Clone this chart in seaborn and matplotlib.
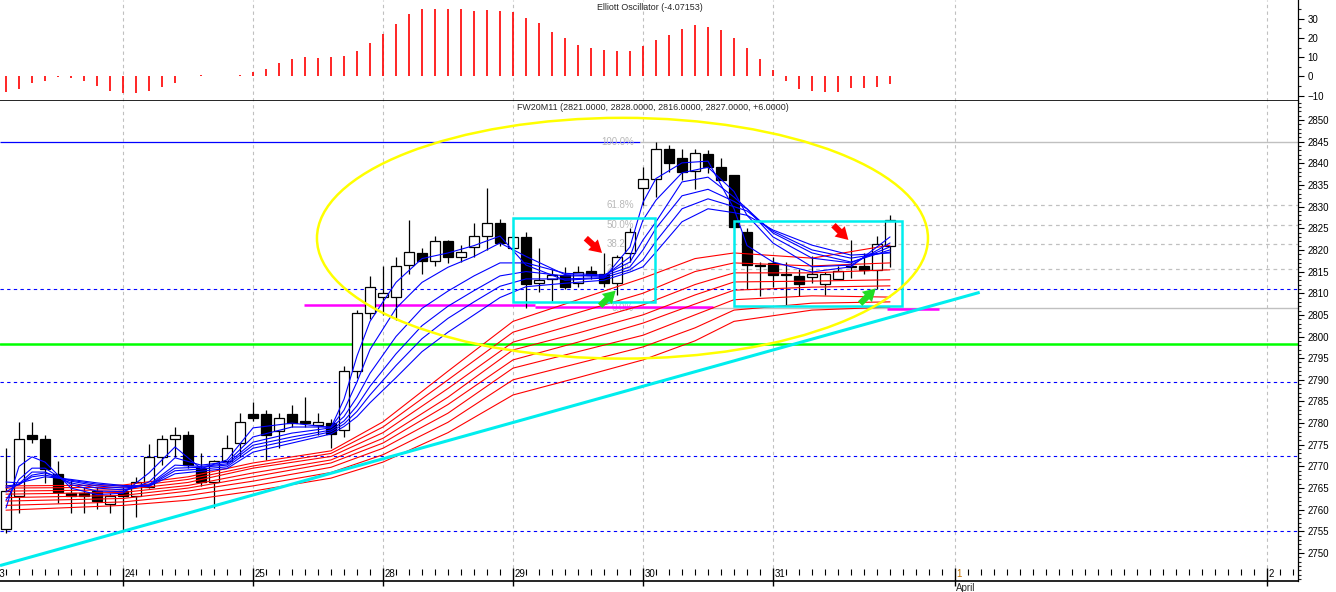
import matplotlib
matplotlib.use('Agg')
import matplotlib.pyplot as plt
from matplotlib.patches import Ellipse, Rectangle
from matplotlib.ticker import MultipleLocator, FixedLocator
import numpy as np
import pandas as pd
import seaborn as sns

sns.set_style('white')
plt.rcParams['font.family'] = ['Liberation Sans', 'DejaVu Sans']

# Candles (one bar per slot, 10 slots per trading day)
bar_idx = list(range(69))
opens = [2755.5, 2763.2, 2777.3, 2776.3, 2768.2, 2763.9, 2763.9, 2764.3, 2761.3, 2764.3,
         2763.2, 2765.2, 2772.2, 2776.3, 2777.3, 2769.6, 2766.4, 2771.2, 2775.4, 2782.1,
         2782.1, 2778.2, 2782.1, 2780.4, 2779.6, 2780.0, 2778.4, 2792.0, 2805.4, 2809.1,
         2809.1, 2816.5, 2819.3, 2817.4, 2822.1, 2818.4, 2820.7, 2823.2, 2826.2, 2820.4,
         2823.0, 2812.4, 2813.3, 2814.2, 2812.4, 2815.1, 2814.4, 2812.4, 2819.3, 2834.3,
         2836.4, 2843.3, 2841.2, 2838.2, 2842.1, 2839.1, 2837.3, 2824.1, 2816.5, 2817.0,
         2814.3, 2814.0, 2813.8, 2812.1, 2813.3, 2816.0, 2816.3, 2815.4, 2821.0]
highs = [2774.2, 2780.3, 2780.3, 2777.3, 2771.2, 2766.9, 2765.2, 2765.2, 2763.9, 2765.2,
         2767.6, 2775.2, 2777.3, 2779.1, 2778.2, 2773.1, 2771.5, 2777.3, 2782.3, 2784.9,
         2783.0, 2782.3, 2784.2, 2786.0, 2782.3, 2781.0, 2793.2, 2806.1, 2814.0, 2816.3,
         2818.4, 2826.9, 2820.4, 2823.2, 2822.4, 2821.1, 2826.2, 2834.3, 2827.1, 2824.1,
         2824.1, 2820.4, 2815.5, 2816.0, 2816.3, 2816.3, 2819.3, 2818.8, 2825.0, 2839.1,
         2844.9, 2844.2, 2843.3, 2843.3, 2843.0, 2841.2, 2837.3, 2825.0, 2817.2, 2818.4,
         2817.2, 2815.5, 2818.6, 2815.0, 2816.3, 2822.3, 2819.3, 2823.2, 2828.0]
lows = [2754.6, 2759.2, 2775.4, 2766.2, 2761.5, 2759.2, 2759.2, 2760.2, 2759.2, 2755.3,
        2758.3, 2765.0, 2770.3, 2772.2, 2769.6, 2765.5, 2760.4, 2770.5, 2772.2, 2780.5,
        2771.5, 2774.2, 2779.1, 2779.0, 2777.3, 2774.2, 2776.8, 2790.5, 2804.0, 2805.0,
        2803.8, 2814.4, 2814.4, 2816.3, 2817.0, 2817.2, 2818.4, 2820.0, 2821.0, 2819.0,
        2806.6, 2810.3, 2808.2, 2811.0, 2811.4, 2813.3, 2811.4, 2809.6, 2817.2, 2830.4,
        2832.2, 2838.0, 2836.2, 2834.0, 2837.8, 2836.1, 2825.3, 2811.0, 2809.4, 2811.4,
        2807.3, 2809.4, 2812.4, 2809.6, 2813.3, 2813.5, 2814.4, 2811.0, 2816.0]
closes = [2764.3, 2776.3, 2776.3, 2769.4, 2764.1, 2763.2, 2763.2, 2762.0, 2763.2, 2763.2,
          2766.4, 2772.2, 2776.3, 2777.3, 2770.3, 2766.4, 2771.2, 2774.2, 2780.3, 2781.2,
          2777.3, 2781.2, 2780.0, 2780.0, 2780.2, 2777.5, 2792.0, 2805.4, 2811.4, 2810.0,
          2816.3, 2819.5, 2817.4, 2822.1, 2818.4, 2819.5, 2823.2, 2826.2, 2821.6, 2823.0,
          2812.1, 2813.0, 2814.2, 2811.4, 2814.9, 2814.2, 2812.4, 2818.4, 2824.1, 2836.4,
          2843.3, 2840.1, 2838.0, 2842.4, 2839.1, 2836.1, 2825.3, 2816.5, 2816.3, 2814.2,
          2814.2, 2812.1, 2814.4, 2814.4, 2815.1, 2816.2, 2815.4, 2821.4, 2827.0]

# Elliott oscillator
osc_values = [-7.8, -6.4, -3.3, -2.1, -0.3, -0.7, -2.1, -4.7, -7.3, -8.3,
              -8.3, -7.3, -5.4, -3.3, 0.0, 0.9, 0.3, 0.3, 0.9, 2.4,
              4.0, 7.1, 9.2, 10.2, 9.7, 10.2, 10.7, 13.3, 17.4, 22.1,
              27.3, 32.5, 35.1, 35.1, 35.1, 35.1, 34.0, 34.5, 34.0, 33.2,
              30.4, 27.8, 23.1, 20.0, 16.4, 14.9, 13.8, 13.3, 13.3, 15.9,
              19.0, 21.6, 24.7, 26.8, 25.7, 24.2, 20.0, 14.9, 9.2, 3.5,
              -2.1, -6.4, -7.4, -7.8, -7.9, -6.0, -5.9, -5.2, -4.07]

# Short-term averages (blue), read at these bar positions
blue_k = [0, 1, 2, 3, 5, 7, 9, 11, 13, 15, 17, 19, 22, 25, 26, 27, 28, 30, 32, 34,
          36, 38, 40, 43, 46, 48, 49, 50, 52, 54, 56, 57, 59, 62, 65, 68]
blue_1 = [2760.4, 2770.0, 2772.2, 2771.0, 2765.0, 2763.5, 2763.8, 2768.5, 2774.5, 2769.5,
          2771.5, 2778.9, 2780.0, 2779.0, 2785.5, 2795.5, 2803.5, 2812.5, 2818.0, 2819.3,
          2821.0, 2823.2, 2816.5, 2813.0, 2813.5, 2820.7, 2831.0, 2836.5, 2840.1, 2840.5,
          2829.5, 2821.0, 2817.2, 2814.9, 2816.1, 2823.0]
blue_2 = [2762.2, 2767.0, 2769.6, 2769.6, 2765.8, 2764.3, 2764.2, 2766.4, 2772.0, 2770.3,
          2771.0, 2776.8, 2779.1, 2779.1, 2783.0, 2789.5, 2797.0, 2806.5, 2812.5, 2816.0,
          2818.5, 2821.6, 2818.5, 2814.3, 2813.9, 2818.4, 2826.9, 2831.5, 2837.8, 2839.1,
          2833.5, 2828.0, 2821.6, 2816.1, 2816.5, 2821.6]
blue_3 = [2764.1, 2766.0, 2768.7, 2768.7, 2766.2, 2765.0, 2764.6, 2765.8, 2770.3, 2770.0,
          2770.6, 2775.6, 2777.7, 2778.9, 2781.5, 2786.0, 2791.5, 2800.0, 2806.5, 2810.5,
          2814.0, 2817.0, 2817.0, 2814.6, 2814.2, 2817.2, 2822.3, 2826.5, 2835.7, 2836.8,
          2832.2, 2829.5, 2823.0, 2818.1, 2817.0, 2820.7]
blue_4 = [2765.1, 2765.8, 2768.0, 2768.5, 2766.6, 2765.5, 2765.0, 2765.6, 2769.6, 2769.8,
          2770.3, 2774.9, 2776.8, 2778.4, 2780.5, 2784.0, 2788.5, 2796.0, 2802.5, 2807.0,
          2810.6, 2814.0, 2815.0, 2814.0, 2814.0, 2816.1, 2820.0, 2825.0, 2832.5, 2834.0,
          2831.2, 2829.5, 2823.9, 2819.3, 2817.2, 2820.0]
blue_5 = [2765.5, 2765.8, 2767.6, 2768.0, 2766.8, 2765.9, 2765.4, 2765.5, 2769.0, 2769.4,
          2769.9, 2774.2, 2776.1, 2778.0, 2779.8, 2782.7, 2786.5, 2793.3, 2799.5, 2804.2,
          2808.0, 2811.6, 2813.3, 2813.3, 2813.6, 2815.4, 2817.7, 2822.0, 2829.5, 2831.8,
          2830.0, 2829.0, 2824.3, 2820.0, 2818.1, 2819.5]
blue_6 = [2766.4, 2766.2, 2766.9, 2767.6, 2767.0, 2766.2, 2765.6, 2765.4, 2768.3, 2768.9,
          2769.5, 2773.3, 2775.4, 2777.5, 2779.2, 2781.5, 2784.7, 2790.5, 2796.5, 2801.0,
          2805.0, 2809.0, 2811.5, 2812.3, 2813.0, 2814.9, 2816.1, 2819.5, 2826.5, 2829.5,
          2828.6, 2828.0, 2824.6, 2821.1, 2818.8, 2819.3]

# Long-term averages (red)
red_k = [0, 9, 14, 19, 25, 29, 34, 39, 44, 49, 53, 56, 62, 68]
red_1 = [2765.5, 2765.7, 2767.6, 2770.8, 2773.6, 2780.3, 2792.0, 2803.5, 2808.5, 2813.5, 2818.0, 2819.3, 2818.1, 2821.1]
red_2 = [2765.0, 2765.2, 2767.0, 2770.1, 2773.0, 2779.1, 2790.0, 2801.0, 2805.5, 2810.0, 2815.0, 2817.0, 2816.3, 2817.0]
red_3 = [2764.3, 2764.6, 2766.3, 2769.6, 2772.3, 2777.8, 2788.0, 2798.7, 2803.0, 2807.3, 2812.0, 2814.7, 2814.7, 2815.4]
red_4 = [2763.6, 2764.0, 2765.6, 2768.5, 2771.5, 2776.5, 2786.0, 2796.9, 2800.8, 2805.0, 2809.6, 2812.6, 2812.8, 2813.1]
red_5 = [2762.8, 2763.3, 2765.0, 2767.6, 2770.8, 2775.4, 2784.3, 2794.6, 2798.7, 2803.1, 2807.5, 2810.7, 2811.4, 2811.7]
red_6 = [2762.0, 2762.6, 2764.3, 2766.6, 2769.8, 2774.2, 2782.3, 2792.7, 2796.5, 2800.3, 2805.0, 2808.5, 2809.4, 2809.1]
red_7 = [2761.0, 2761.8, 2763.3, 2765.5, 2768.6, 2772.7, 2780.2, 2790.0, 2793.8, 2797.6, 2802.0, 2806.1, 2807.7, 2808.0]
red_8 = [2759.9, 2761.0, 2762.2, 2764.3, 2767.3, 2771.0, 2777.8, 2786.5, 2790.5, 2794.6, 2799.0, 2803.5, 2806.1, 2806.8]

# Day separators
day_pos = [-1, 9, 19, 29, 39, 49, 59, 73, 97]
day_labels = ['23', '24', '25', '28', '29', '30', '31', '1', '2']

# Drawn levels
blue_dash_levels = [2811.0, 2789.6, 2772.4, 2755.1]
green_level = 2798.3
fib_high, fib_low = 2845.0, 2806.6
fib_ratios = [1.0, 0.618, 0.5, 0.382, 0.236, 0.0]
fib_labels = ['100.0%', '61.8%', '50.0%', '38.2%', '23.6%', '0.0%']
price_ticks = list(range(2750, 2851, 5))

df = pd.DataFrame({'k': bar_idx, 'open': opens, 'high': highs, 'low': lows,
                   'close': closes, 'osc': osc_values})

W, H = 1336, 592
fig = plt.figure(figsize=(W / 100, H / 100), dpi=100)
ax_osc = fig.add_axes([0, 1 - 101 / H, 1298 / W, 101 / H])
ax = fig.add_axes([0, 1 - 581 / H, 1298 / W, 480 / H])

x_lo, x_hi = -6 / 13, (1298 - 6) / 13
grey = '#c0c0c0'
for a in (ax, ax_osc):
    a.set_xlim(x_lo, x_hi)
    a.set_facecolor('white')
    a.spines['left'].set_visible(False)
    a.spines['top'].set_visible(False)
    a.spines['right'].set_color('black')
    a.spines['right'].set_linewidth(0.9)
    a.spines['bottom'].set_color('black')
    a.spines['bottom'].set_linewidth(1.2)
    a.yaxis.tick_right()
    a.set_xticks([])
    a.tick_params(axis='y', which='major', direction='out', length=4.5, width=0.8,
                  labelsize=7, pad=2.5, colors='black')
    a.tick_params(axis='y', which='minor', direction='out', length=2.2, width=0.8)

# ---- oscillator panel ----
ax_osc.set_ylim(-12.7, 39.6)
ax_osc.yaxis.set_major_locator(MultipleLocator(10))
ax_osc.yaxis.set_minor_locator(MultipleLocator(5))
ax_osc.vlines(df['k'], 0, df['osc'], color='#ff0000', lw=1.2, zorder=3)
for d in day_pos:
    ax_osc.axvline(d, color=grey, lw=0.8, ls=(0, (3, 3)), zorder=1)
ax_osc.text(0.46, 0.93, 'Elliott Oscillator (-4.07153)', transform=ax_osc.transAxes,
            fontsize=6.4, ha='left', va='center')

# ---- price panel ----
ax.set_ylim(2743.54, 2854.39)
ax.yaxis.set_major_locator(FixedLocator(price_ticks))
ax.yaxis.set_minor_locator(MultipleLocator(1))

xt = ax.get_xaxis_transform()
for d in day_pos:
    ax.vlines(d, 0.027, 1, transform=xt, color=grey, lw=0.8, ls=(0, (3, 3)), zorder=1)
    ax.vlines(d, -0.01, 0.027, transform=xt, color='black', lw=1.0, clip_on=False, zorder=3)
minor_k = [k for k in range(-1, 100) if k not in day_pos]
ax.vlines(minor_k, 0.013, 0.024, transform=xt, color='black', lw=0.8)
for d, lab in zip(day_pos, day_labels):
    ax.text(d + 0.12, 0.004, lab, transform=xt, fontsize=7, ha='left', va='bottom',
            color='#c07000' if lab == '1' else 'black')
ax.text(73 + 0.1, -0.004, 'April', transform=xt, fontsize=7, ha='left', va='top',
        clip_on=False)

# horizontal levels
for lv in blue_dash_levels:
    ax.axhline(lv, color='#0000ff', lw=0.8, ls=(0, (3, 3)), zorder=2)
ax.axhline(green_level, color='#00ff00', lw=1.8, zorder=2)
ax.hlines(fib_high, x_lo, 48.8, color='#0000ff', lw=0.9, zorder=2)
ax.hlines(fib_high, 48.8, x_hi, color=grey, lw=1.0, zorder=2)
ax.hlines(fib_low, 46.7, x_hi, color=grey, lw=1.0, zorder=2)
for r in fib_ratios[1:-1]:
    ax.hlines(fib_low + r * (fib_high - fib_low), 49.0, x_hi, color=grey, lw=0.9,
              ls=(0, (3, 3)), zorder=2)
for r, lab in zip(fib_ratios, fib_labels):
    ax.text(48.3, fib_low + r * (fib_high - fib_low), lab, fontsize=7, color='#b8b8b8',
            ha='right', va='center', zorder=2)
ax.hlines(2807.3, 22.9, 40.7, color='#ff00ff', lw=1.8, zorder=2)
ax.hlines(2806.9, 40.7, 54.4, color='#ff00ff', lw=1.8, zorder=2)
ax.hlines(2806.4, 67.8, 71.8, color='#ff00ff', lw=1.8, zorder=2)

# candles
up = df['close'] >= df['open']
body_lo = np.minimum(df['open'], df['close'])
body_h = np.maximum((df['close'] - df['open']).abs(), 0.25)
ax.vlines(df['k'], df['low'], df['high'], color='black', lw=0.9, zorder=3)
ax.bar(df['k'], body_h, bottom=body_lo, width=0.8,
       color=np.where(up, 'white', 'black'), edgecolor='black', linewidth=0.9, zorder=4)

# moving-average ribbons
for line in (red_1, red_2, red_3, red_4, red_5, red_6, red_7, red_8):
    sns.lineplot(x=red_k, y=line, color='#ff0000', lw=0.8, ax=ax, zorder=5)
for line in (blue_6, blue_5, blue_4, blue_3, blue_2, blue_1):
    sns.lineplot(x=blue_k, y=line, color='#0000ff', lw=0.8, ax=ax, zorder=6)

# trend line, boxes, ellipse
ax.plot([x_lo, 74.9], [2747.1, 2810.2], color='#00eeee', lw=2.2, zorder=7,
        solid_capstyle='butt')
ax.add_patch(Rectangle((38.98, 2808.0), 49.92 - 38.98, 2827.4 - 2808.0, fill=False,
                       edgecolor='#00eeee', lw=1.8, zorder=7))
ax.add_patch(Rectangle((56.0, 2807.1), 68.9 - 56.0, 2826.7 - 2807.1, fill=False,
                       edgecolor='#00eeee', lw=1.8, zorder=7))
ax.add_patch(Ellipse((47.42, 2822.7), 47.0, 55.6, fill=False, edgecolor='#ffff00',
                     lw=1.8, zorder=7))

# arrows
arrow_style = 'simple,head_length=0.55,head_width=0.65,tail_width=0.28'
for (x0, y0, x1, y1, col) in [(44.6, 2822.7, 45.85, 2819.3, '#ff0000'),
                              (63.65, 2825.7, 64.8, 2822.3, '#ff0000'),
                              (45.7, 2807.1, 46.9, 2810.6, '#22dd22'),
                              (65.7, 2807.6, 66.9, 2811.1, '#22dd22')]:
    ax.annotate('', xy=(x1, y1), xytext=(x0, y0),
                arrowprops=dict(arrowstyle=arrow_style, color=col, lw=0,
                                mutation_scale=16, shrinkA=0, shrinkB=0), zorder=8)

ax.text(0.398, 0.9875, 'FW20M11 (2821.0000, 2828.0000, 2816.0000, 2827.0000, +6.0000)',
        transform=ax.transAxes, fontsize=6.4, ha='left', va='center')

ax.set_xlabel('')
ax.set_ylabel('')
fig.savefig('out.png', dpi=100)
